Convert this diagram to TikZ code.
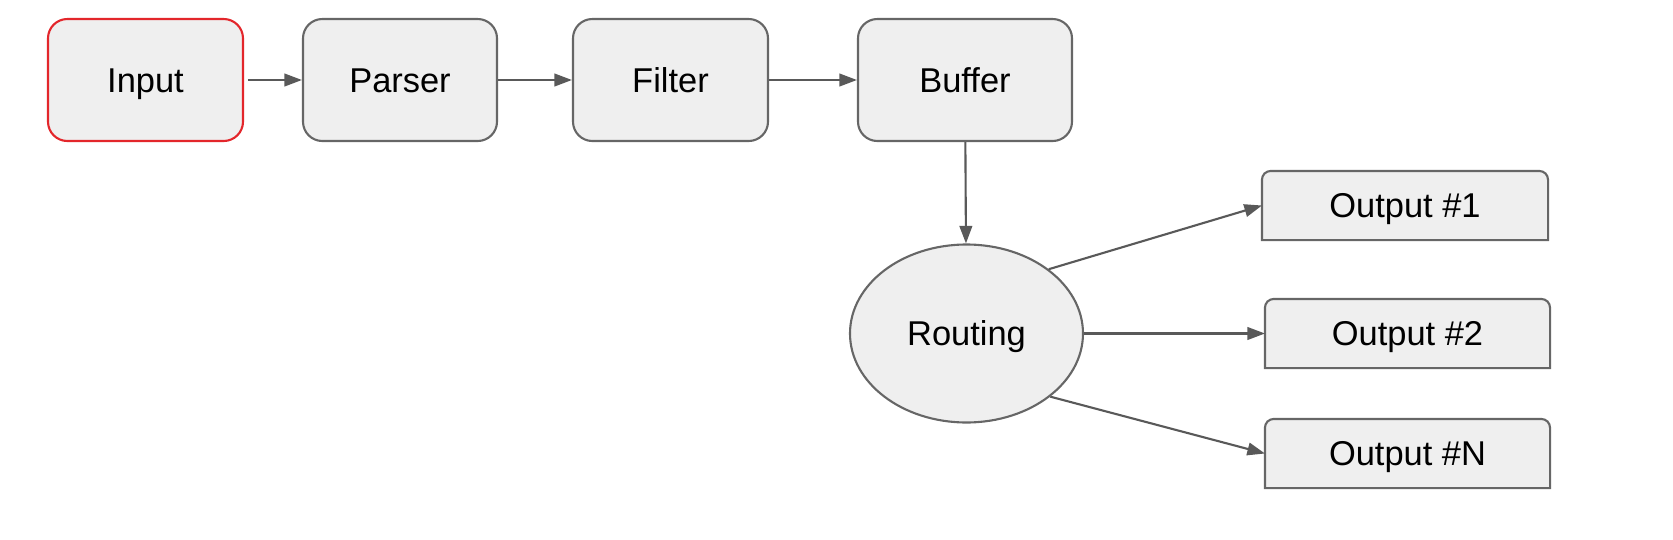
\documentclass[tikz,border=0pt]{standalone}
\usepackage{fontspec}
\setmainfont{Liberation Sans}
\usetikzlibrary{arrows.meta,shapes.geometric}
\definecolor{boxfill}{HTML}{EFEFEF}
\definecolor{boxline}{HTML}{666666}
\definecolor{arrline}{HTML}{595959}
\definecolor{inred}{HTML}{E3262B}
\begin{document}
\begin{tikzpicture}
			[x=1cm,y=1cm,every node/.style={draw=boxline,
			fill=boxfill, line width=0.6pt, inner sep=0pt,
			text height=7pt, text depth=0pt,
			font=\fontsize{9.8}{12}\selectfont},
			stage/.style={rectangle, rounded corners=5.5pt,
			minimum height=1.22cm},
			outbox/.style={rectangle, draw=none, minimum width=2.83cm,
			minimum height=0.67cm},
			link/.style={draw=arrline, line width=0.6pt,
			-{Triangle[length=5pt,width=3.6pt]}}]
			\useasboundingbox (0,0) rectangle (16.73,5.39);

			\node[stage, draw=inred, minimum width=1.95cm] (inp) at (1.455,4.59) {Input};
			\node[stage, minimum width=1.94cm] (par) at (4.00,4.59)  {Parser};
			\node[stage, minimum width=1.95cm] (fil) at (6.705,4.59) {Filter};
			\node[stage, minimum width=2.14cm] (buf) at (9.65,4.59)  {Buffer};

			\node[ellipse, minimum width=2.33cm, minimum height=1.78cm] (rout) at (9.665,2.055) {Routing};

			\node[outbox, minimum width=2.84cm] (out1) at (14.05,3.335) {Output \#1};
			\node[outbox] (out2) at (14.075,2.055)  {Output \#2};
			\node[outbox] (outn) at (14.075,0.855) {Output \#N};

			% output boxes: rounded on top only
			\foreach \o in {out1,out2,outn}
			\draw[draw=boxline, line width=0.6pt] (\o.south west) [rounded corners=2.5pt]
			-- (\o.north west) -- (\o.north east) [sharp corners] -- (\o.south east) -- cycle;

			\draw[link, shorten <=1.1pt] (inp) -- (par);
			\foreach \from/\to in {par/fil,fil/buf,buf/rout,rout/out2}
			\draw[link] (\from) -- (\to);

			\draw[link] (rout.38) -- (out1.west);
			\draw[link] (rout.-37) -- (outn.west);
		\end{tikzpicture}
\end{document}
